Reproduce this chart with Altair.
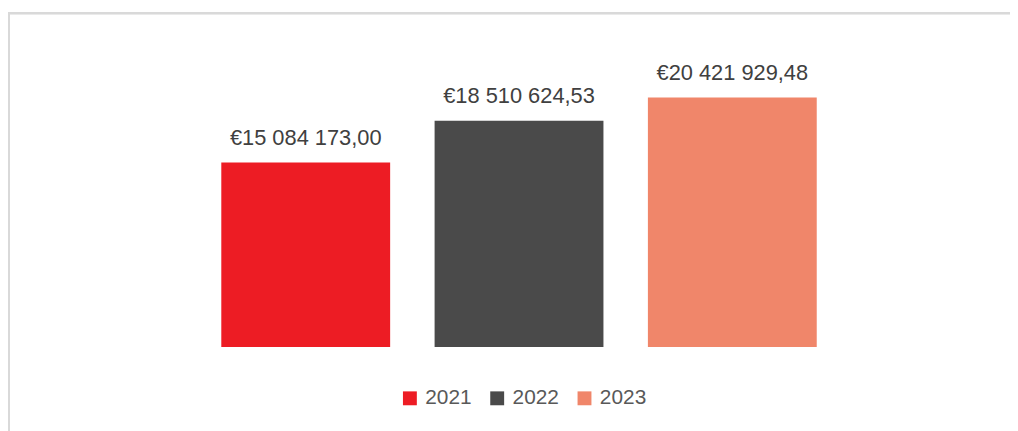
import altair as alt
import pandas as pd

years = ["2021", "2022", "2023"]
values = [15084173.00, 18510624.53, 20421929.48]
colors = ["#ED1C24", "#4A4A4A", "#F0866A"]


def fmt(v):
    s = f"{v:,.2f}"
    s = s.replace(",", " ").replace(".", ",")
    return "€" + s


labels = [fmt(v) for v in values]

df = pd.DataFrame({"year": years, "value": values, "label": labels})

FONT = "Liberation Sans"

x_enc = alt.X("year:N", axis=None,
              scale=alt.Scale(paddingInner=0.2084, paddingOuter=0.1042, round=False))
y_scale = alt.Scale(domain=[0, 25000000], nice=False, zero=True)

bars = alt.Chart(df).mark_bar().encode(
    x=x_enc,
    y=alt.Y("value:Q", axis=None, scale=y_scale),
    color=alt.Color(
        "year:N",
        scale=alt.Scale(domain=years, range=colors),
        legend=alt.Legend(
            title=None,
            orient="none",
            direction="horizontal",
            legendX=202,
            legendY=349,
            symbolType="square",
            symbolSize=196,
            symbolStrokeWidth=0,
            labelFont=FONT,
            labelFontSize=21,
            labelColor="#595959",
            labelOffset=5,
            columnPadding=15,
        ),
    ),
)

text = alt.Chart(df).mark_text(
    font=FONT, fontSize=22, color="#404040", baseline="alphabetic", dy=-18
).encode(
    x=x_enc,
    y=alt.Y("value:Q", axis=None, scale=y_scale),
    text="label:N",
)

border = alt.Chart(df).mark_rect(
    fill=None, stroke="#D9D9D9", strokeWidth=2
).encode(
    x=alt.value(-191.6),
    x2=alt.value(2000),
    y=alt.value(-28.5),
    y2=alt.value(1000),
)

chart = alt.layer(border, bars, text).properties(
    width=645,
    height=308,
    padding={"left": 192.6, "top": 32, "right": 172.4, "bottom": 83},
    autosize=alt.AutoSizeParams(type="none"),
).configure_view(stroke=None, strokeWidth=0)

chart.save("out.html", embed_options={"renderer": "svg", "actions": False})
